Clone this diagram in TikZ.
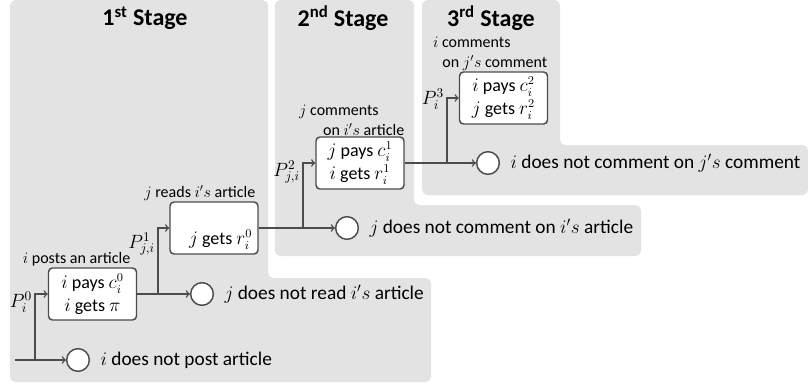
\documentclass[tikz,border=0pt]{standalone}
\usepackage{fontspec}
\setmainfont{Carlito}
\usetikzlibrary{arrows}
\tikzstyle{tree}=[x=0.75pt, y=-0.75pt, line width=1.1pt]
\tikzstyle{stage}=[fill=black!11, rounded corners=4pt]
\tikzstyle{stagetitle}=[font=\fontsize{18}{21}\selectfont\bfseries]
\tikzstyle{act}=[rectangle, rounded corners=3pt, draw=black!70, fill=white, minimum width=66pt, minimum height=39pt, inner sep=1pt, align=center, font=\fontsize{13.5}{17}\selectfont]
\tikzstyle{leaf}=[circle, draw=black!70, fill=white, minimum size=17pt, inner sep=0pt]
\tikzstyle{outtext}=[anchor=west, xshift=4pt, font=\fontsize{14.5}{16}\selectfont]
\tikzstyle{prob}=[anchor=east, inner sep=1pt, font=\fontsize{14}{16}\selectfont]
\tikzstyle{actlabel}=[anchor=south east, inner sep=0pt, align=left, font=\fontsize{12}{14.5}\selectfont]
\tikzstyle{edge}=[->, >=to, draw=black!70]

\begin{document}
\begin{tikzpicture}[tree]
	\useasboundingbox (0,0) rectangle (808,390);
	\fill[stage] (10,0) -- (268,0) -- (268,278) -- (431,278) -- (431,382) -- (10,382) -- cycle;
	\fill[stage] (275,0) -- (414,0) -- (414,205) -- (641,205) -- (641,256) -- (275,256) -- cycle;
	\fill[stage] (422,0) -- (560,0) -- (560,145) -- (808,145) -- (808,195) -- (422,195) -- cycle;
	\draw (145,18) node[stagetitle] (st1) {1\textsuperscript{st} Stage};
	\draw (343,18) node[stagetitle] (st2) {2\textsuperscript{nd} Stage};
	\draw (491,18) node[stagetitle] (st3) {3\textsuperscript{rd} Stage};
	%
	\coordinate (s0) at (15,360);
	\coordinate (c0) at (35,360);
	\draw (78,360) node[leaf] (n0) {};
	\draw (92.5,294) node[act] (b0) {$i$ pays $c_i^0$\\$i$ gets $\pi$};
	\draw (n0.east) node[outtext] {$i$ does not post article};
	\draw (131,267) node[actlabel] {$i$ posts an article};
	\draw (34,302) node[prob] {$P_i^0$};
	\draw[edge] (s0) -- (n0);
	\draw[edge] (c0) |- (b0);
	%
	\coordinate (c1) at (158,294);
	\draw (202,294) node[leaf] (n1) {};
	\draw (214,228) node[act] (b1) {\strut\\\hspace*{10pt}$j$ gets $r_i^0$};
	\draw (n1.east) node[outtext] {$j$ does not read $i's$ article};
	\draw (256,201) node[actlabel] {$j$ reads $i's$ article};
	\draw (157,244) node[prob] {$P_{j,i}^1$};
	\draw[edge] (b0) -- (n1);
	\draw[edge] (c1) |- (b1);
	%
	\coordinate (c2) at (303,228);
	\draw (347,228) node[leaf] (n2) {};
	\draw (360,163) node[act] (b2) {$j$ pays $c_i^1$\\$i$ gets $r_i^1$};
	\draw (n2.east) node[outtext] {$j$ does not comment on $i's$ article};
	\draw (405,136) node[actlabel] {$j$ comments\\\hspace*{18pt}on $i's$ article};
	\draw (302,172) node[prob] {$P_{j,i}^2$};
	\draw[edge] (b1) -- (n2);
	\draw[edge] (c2) |- (b2);
	%
	\coordinate (c3) at (447,163);
	\draw (488,163) node[leaf] (n3) {};
	\draw (503.5,98) node[act] (b3) {$i$ pays $c_i^2$\\$j$ gets $r_i^2$};
	\draw (n3.east) node[outtext] {$i$ does not comment on $j's$ comment};
	\draw (548,71) node[actlabel] {$i$ comments\\\hspace*{7pt}on $j's$ comment};
	\draw (446,99) node[prob] {$P_i^3$};
	\draw[edge] (b2) -- (n3);
	\draw[edge] (c3) |- (b3);
\end{tikzpicture}
\end{document}
